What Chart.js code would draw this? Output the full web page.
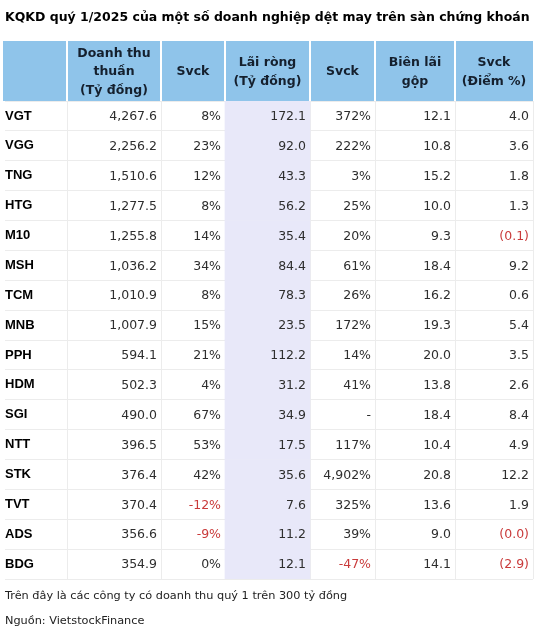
<!DOCTYPE html>
<html>
<head>
<meta charset="utf-8">
<script src="https://cdn.jsdelivr.net/npm/chart.js@4.4.1/dist/chart.umd.min.js"></script>
<style>
  html, body { margin: 0; padding: 0; background: #fff; }
  #wrap { width: 538px; height: 634px; }
</style>
</head>
<body>
<div id="wrap"><canvas id="tbl"></canvas></div>
<script>
// KQKD quy 1/2025
const tickers = ['VGT', 'VGG', 'TNG', 'HTG', 'M10', 'MSH', 'TCM', 'MNB', 'PPH', 'HDM', 'SGI', 'NTT', 'STK', 'TVT', 'ADS', 'BDG'];
const revenue = [4267.6, 2256.2, 1510.6, 1277.5, 1255.8, 1036.2, 1010.9, 1007.9, 594.1, 502.3, 490.0, 396.5, 376.4, 370.4, 356.6, 354.9];
const revenueYoY = [8, 23, 12, 8, 14, 34, 8, 15, 21, 4, 67, 53, 42, -12, -9, 0];
const profit = [172.1, 92.0, 43.3, 56.2, 35.4, 84.4, 78.3, 23.5, 112.2, 31.2, 34.9, 17.5, 35.6, 7.6, 11.2, 12.1];
const profitYoY = [372, 222, 3, 25, 20, 61, 26, 172, 14, 41, null, 117, 4902, 325, 39, -47];
const grossMargin = [12.1, 10.8, 15.2, 10.0, 9.3, 18.4, 16.2, 19.3, 20.0, 13.8, 18.4, 10.4, 20.8, 13.6, 9.0, 14.1];
const marginYoY = [4.0, 3.6, 1.8, 1.3, -0.1, 9.2, 0.6, 5.4, 3.5, 2.6, 8.4, 4.9, 12.2, 1.9, -0.04, -2.9];

const headers = [
  ['Doanh thu', 'thuần', '(Tỷ đồng)'],
  ['Svck'],
  ['Lãi ròng', '(Tỷ đồng)'],
  ['Svck'],
  ['Biên lãi', 'gộp'],
  ['Svck', '(Điểm %)']
];

// layout
const colWidths = [94, 64, 85, 65, 80, 78];
const highlightCol = 2;
const edges = colWidths.reduce((acc, w) => { acc.push(acc[acc.length - 1] + w); return acc; }, [0]);

const INK = '#2e2e2e';
const RED = '#c93a3a';
const FONT = '"DejaVu Sans", Verdana, sans-serif';

const fmt1 = v => v.toLocaleString('en-US', { minimumFractionDigits: 1, maximumFractionDigits: 1 });
const fmtPct = v => v == null ? '-' : v.toLocaleString('en-US') + '%';
const fmtPt = v => v < 0 ? '(' + Math.abs(v).toFixed(1) + ')' : v.toFixed(1);

const columns = [
  { values: revenue, fmt: fmt1 },
  { values: revenueYoY, fmt: fmtPct },
  { values: profit, fmt: fmt1 },
  { values: profitYoY, fmt: fmtPct },
  { values: grossMargin, fmt: fmt1 },
  { values: marginYoY, fmt: fmtPt }
];

const tablePlugin = {
  id: 'tableCells',
  afterDatasetsDraw(chart) {
    const { ctx, scales: { x, y } } = chart;
    ctx.save();
    ctx.font = '12.5px ' + FONT;
    ctx.textAlign = 'right';
    ctx.textBaseline = 'middle';
    columns.forEach((col, c) => {
      const right = x.getPixelForValue(edges[c + 1]) - 4;
      col.values.forEach((v, i) => {
        ctx.fillStyle = (v != null && v < 0) ? RED : INK;
        ctx.fillText(col.fmt(v), right, y.getPixelForValue(i) + 1);
      });
    });
    ctx.restore();
  },
  afterDraw(chart) {
    // header band over the top x axis
    const { ctx, scales: { x, y } } = chart;
    const top = x.top, bottom = x.bottom, left = y.left - 2, right = x.right;
    ctx.save();
    ctx.fillStyle = '#8fc4ea';
    ctx.fillRect(left, top, right - left, bottom - top);
    ctx.strokeStyle = '#ffffff';
    ctx.lineWidth = 2;
    edges.slice(0, -1).forEach(e => {
      const px = Math.round(x.getPixelForValue(e));
      ctx.beginPath();
      ctx.moveTo(px, top);
      ctx.lineTo(px, bottom);
      ctx.stroke();
    });
    ctx.fillStyle = '#15202e';
    ctx.font = 'bold 12.5px ' + FONT;
    ctx.textAlign = 'center';
    ctx.textBaseline = 'middle';
    const mid = (top + bottom) / 2 + 1;
    headers.forEach((lines, c) => {
      const cx = (x.getPixelForValue(edges[c]) + x.getPixelForValue(edges[c + 1])) / 2;
      lines.forEach((t, k) => {
        ctx.fillText(t, cx, mid + (k - (lines.length - 1) / 2) * 18.5);
      });
    });
    ctx.restore();
  }
};

new Chart(document.getElementById('tbl'), {
  type: 'bar',
  data: {
    labels: tickers,
    datasets: [{
      // shaded "Lai rong" column
      data: tickers.map(() => [edges[highlightCol], edges[highlightCol + 1]]),
      backgroundColor: '#e8e8f9',
      borderWidth: 0,
      barPercentage: 1,
      categoryPercentage: 1
    }]
  },
  options: {
    indexAxis: 'y',
    responsive: true,
    maintainAspectRatio: false,
    animation: false,
    layout: { padding: { left: 5, right: 5, top: 0, bottom: 0 } },
    scales: {
      x: {
        type: 'linear',
        position: 'top',
        min: 0,
        max: edges[edges.length - 1],
        afterBuildTicks: s => { s.ticks = edges.map(v => ({ value: v })); },
        afterFit: s => { s.height = 60; },
        ticks: { display: false },
        grid: { color: '#ececec', drawTicks: false },
        border: { display: false }
      },
      y: {
        type: 'category',
        offset: true,
        afterFit: s => { s.width = 62; },
        ticks: {
          crossAlign: 'far',
          color: '#000',
          font: { family: '"Liberation Sans", Arial, sans-serif', size: 13, weight: 'bold' }
        },
        grid: { offset: true, color: '#ececec', tickLength: 62 },
        border: { color: '#ececec' }
      }
    },
    plugins: {
      legend: { display: false },
      tooltip: { enabled: false },
      title: {
        display: true,
        text: 'KQKD quý 1/2025 của một số doanh nghiệp dệt may trên sàn chứng khoán',
        align: 'start',
        color: '#000',
        font: { family: FONT, size: 12.5, weight: 'bold', lineHeight: '16px' },
        padding: { top: 10, bottom: 15 }
      },
      subtitle: {
        display: true,
        position: 'bottom',
        align: 'start',
        text: ['Trên đây là các công ty có doanh thu quý 1 trên 300 tỷ đồng', 'Nguồn: VietstockFinance'],
        color: '#222',
        font: { family: FONT, size: 11.3, weight: 'normal', lineHeight: '25px' },
        padding: { top: 5, bottom: 0 }
      }
    }
  },
  plugins: [tablePlugin]
});
</script>
</body>
</html>
